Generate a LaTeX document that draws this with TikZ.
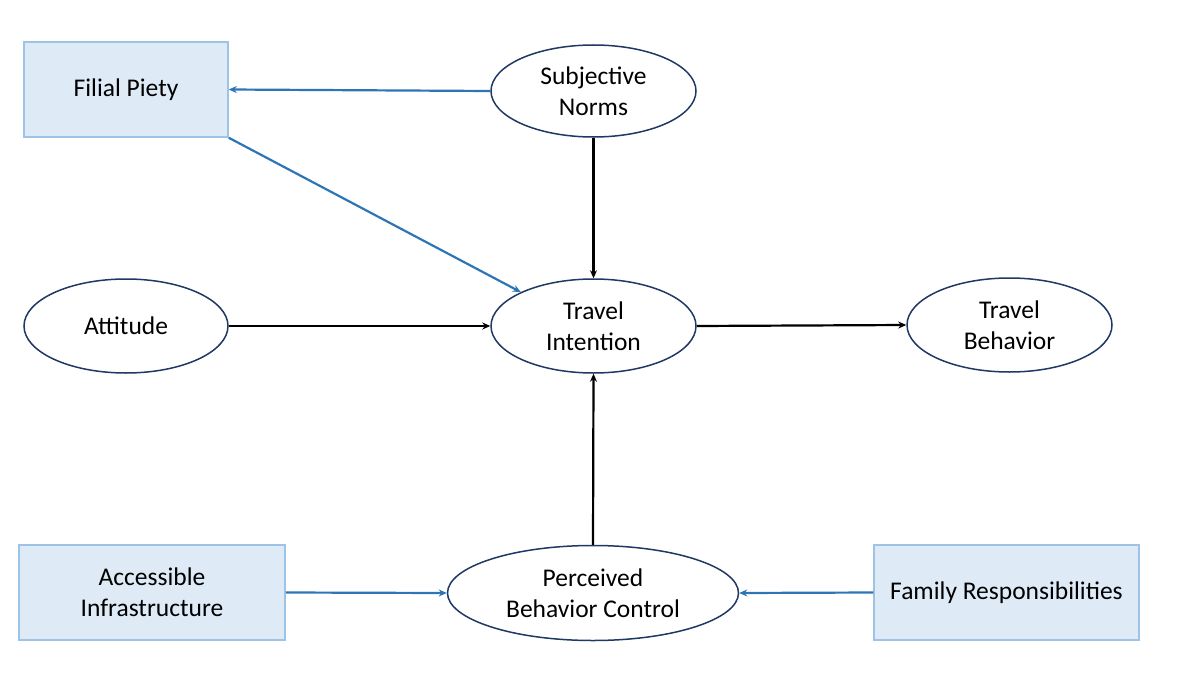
\documentclass[tikz,border=0pt]{standalone}
\usepackage{fontspec}
\setmainfont{Carlito}
\usetikzlibrary{arrows.meta,shapes.geometric}
\definecolor{boxfill}{HTML}{DEEAF6}
\definecolor{boxline}{HTML}{9DC3E6}
\definecolor{ellline}{HTML}{1F3864}
\definecolor{blueline}{HTML}{2E75B6}
\begin{document}
\begin{tikzpicture}[x=1pt,y=-1pt,
  every node/.style={font=\fontsize{25.5}{31}\selectfont, align=center, inner sep=0pt},
  latent/.style={ellipse, draw=ellline, line width=1.5pt, fill=white},
  factor/.style={rectangle, draw=boxline, line width=1.5pt, fill=boxfill},
  blk/.style={-{Stealth[length=8pt,width=7pt]}, line width=2.2pt, black},
  blu/.style={-{Stealth[length=8pt,width=7pt]}, line width=2.2pt, blueline}]
\useasboundingbox (0,0) rectangle (1190,674);
\node[factor, minimum width=204pt, minimum height=95pt] (fp) at (126,89.5) {Filial Piety};
\node[latent, minimum width=205pt, minimum height=92pt] (sn) at (593.5,91) {Subjective\\Norms};
\node[latent, minimum width=204pt, minimum height=94pt] (att) at (126,326) {Attitude};
\node[latent, minimum width=205pt, minimum height=94pt] (ti) at (593.5,326) {Travel\\Intention};
\node[latent, minimum width=205pt, minimum height=94pt] (tb) at (1009.5,325) {Travel\\Behavior};
\node[latent, minimum width=291pt, minimum height=95pt] (pbc) at (593,593) {Perceived\\Behavior Control};
\node[factor, minimum width=266pt, minimum height=95pt] (ai) at (152,592.5) {Accessible\\Infrastructure};
\node[factor, minimum width=265pt, minimum height=95pt] (fr) at (1006.5,592.5) {Family Responsibilities};
\draw[blu] (sn.west) -- (fp.east);
\draw[blu] (fp.south east) -- (ti.155);
\draw[blk] (sn.south) -- (ti.north);
\draw[blk] (att.east) -- (ti.west);
\draw[blk] (ti.east) -- (tb.west);
\draw[blk] (pbc.north) -- (ti.south);
\draw[blu] (ai.east) -- (pbc.west);
\draw[blu] (fr.west) -- (pbc.east);
\end{tikzpicture}
\end{document}
